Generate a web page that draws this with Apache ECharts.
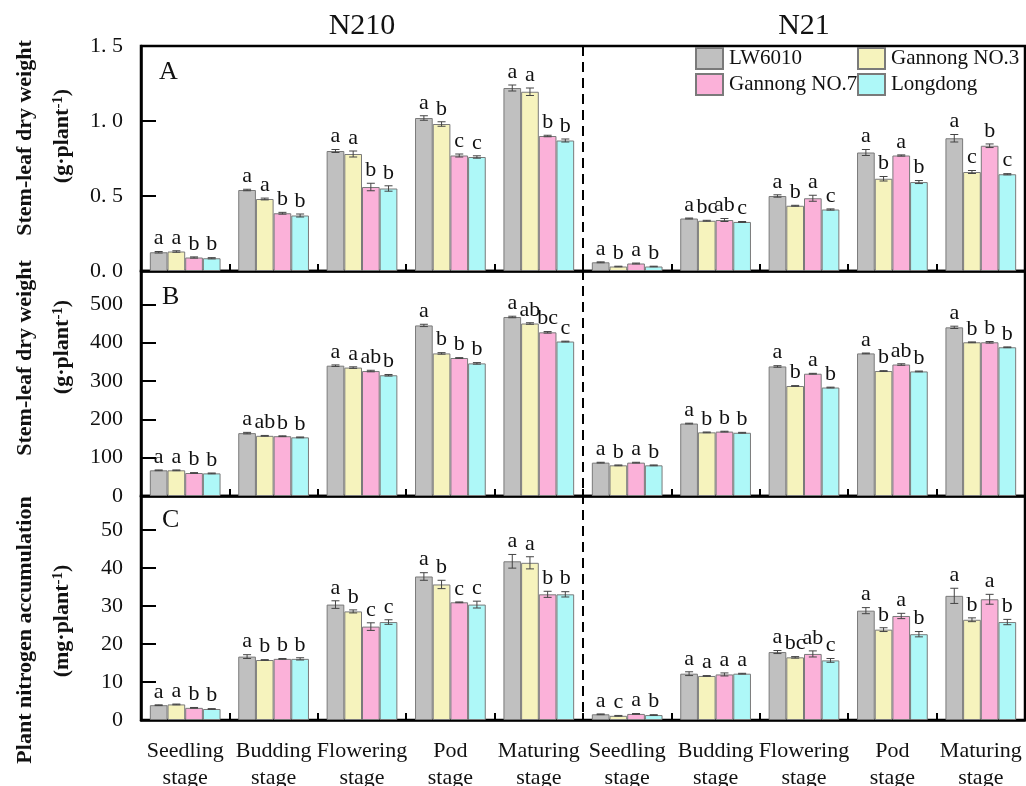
<!DOCTYPE html>
<html>
<head>
<meta charset="utf-8">
<script src="https://cdn.jsdelivr.net/npm/echarts@6/dist/echarts.min.js"></script>
<style>
html,body{margin:0;padding:0;background:#fff;}
#chart{width:1026px;height:786px;}
</style>
</head>
<body>
<div id="chart"></div>
<script>
// ---------- data ----------
const nLevels = ['N210', 'N21'];
const stages = ['Seedling\nstage', 'Budding\nstage', 'Flowering\nstage', 'Pod\nstage', 'Maturing\nstage'];
const categories = stages.concat(stages);
const varieties = ['LW6010', 'Gannong NO.3', 'Gannong NO.7', 'Longdong'];
const colors = ['#c0c0c0', '#f6f3bd', '#fbb1d9', '#aef8f8'];
const panelLetters = ['A', 'B', 'C'];

// Panel A: stem-leaf dry weight (g·plant-1) [variety][category]
const valuesA = [
  [0.125, 0.54, 0.80, 1.02, 1.22, 0.058, 0.35, 0.50, 0.79, 0.885],
  [0.13, 0.48, 0.78, 0.98, 1.195, 0.03, 0.335, 0.435, 0.615, 0.66],
  [0.09, 0.385, 0.56, 0.77, 0.90, 0.05, 0.34, 0.485, 0.77, 0.835],
  [0.085, 0.37, 0.55, 0.76, 0.87, 0.03, 0.327, 0.41, 0.593, 0.645]
];
const errorsA = [
  [0.005, 0.005, 0.01, 0.015, 0.02, 0.003, 0.003, 0.008, 0.02, 0.025],
  [0.005, 0.006, 0.02, 0.015, 0.025, 0.002, 0.003, 0.003, 0.015, 0.01],
  [0.004, 0.006, 0.025, 0.01, 0.005, 0.003, 0.01, 0.02, 0.004, 0.012],
  [0.004, 0.01, 0.018, 0.008, 0.01, 0.002, 0.003, 0.004, 0.01, 0.004]
];
const lettersA = [
  ['a', 'a', 'a', 'a', 'a', 'a', 'a', 'a', 'a', 'a'],
  ['a', 'a', 'a', 'b', 'a', 'b', 'bc', 'b', 'b', 'c'],
  ['b', 'b', 'b', 'c', 'b', 'a', 'ab', 'a', 'a', 'b'],
  ['b', 'b', 'b', 'c', 'b', 'b', 'c', 'c', 'b', 'c']
];

// Panel B
const valuesB = [
  [67, 164, 340, 445, 467, 87, 189, 338, 372, 440],
  [67, 157, 335, 372, 450, 80, 166, 287, 326, 401],
  [60, 156, 326, 360, 427, 87, 168, 319, 343, 401],
  [59, 153, 315, 346, 403, 80, 165, 283, 325, 388]
];
const errorsB = [
  [1, 2, 2, 3, 2, 1, 1, 2, 1, 3],
  [1, 1, 2, 2, 2, 1, 1, 1, 1, 1],
  [1, 1, 2, 1, 2, 1, 1, 1, 2, 2],
  [1, 1, 2, 2, 1, 1, 1, 1, 1, 1]
];
const lettersB = [
  ['a', 'a', 'a', 'a', 'a', 'a', 'a', 'a', 'a', 'a'],
  ['a', 'ab', 'a', 'b', 'ab', 'b', 'b', 'b', 'b', 'b'],
  ['b', 'b', 'ab', 'b', 'bc', 'a', 'b', 'a', 'ab', 'b'],
  ['b', 'b', 'b', 'b', 'c', 'b', 'b', 'b', 'b', 'b']
];

// Panel C: plant nitrogen accumulation (mg·plant-1)
const valuesC = [
  [3.9, 16.7, 30.4, 37.8, 41.8, 1.5, 12.2, 17.9, 28.8, 32.7],
  [4.1, 15.8, 28.6, 35.7, 41.4, 1.1, 11.6, 16.5, 23.8, 26.4],
  [3.2, 16.1, 24.6, 31.0, 33.1, 1.6, 12.0, 17.4, 27.4, 31.8],
  [2.9, 16.1, 25.8, 30.4, 33.1, 1.3, 12.2, 15.7, 22.6, 25.8]
];
const errorsC = [
  [0.1, 0.5, 1.0, 1.0, 1.8, 0.1, 0.5, 0.4, 0.8, 2.0],
  [0.1, 0.1, 0.4, 1.1, 1.6, 0.1, 0.1, 0.2, 0.5, 0.5],
  [0.1, 0.1, 1.0, 0.1, 0.8, 0.1, 0.4, 0.8, 0.7, 1.3],
  [0.1, 0.3, 0.6, 0.9, 0.7, 0.1, 0.1, 0.5, 0.7, 0.7]
];
const lettersC = [
  ['a', 'a', 'a', 'a', 'a', 'a', 'a', 'a', 'a', 'a'],
  ['a', 'b', 'b', 'b', 'a', 'c', 'a', 'bc', 'b', 'b'],
  ['b', 'b', 'c', 'c', 'b', 'a', 'a', 'ab', 'a', 'a'],
  ['b', 'b', 'c', 'c', 'b', 'b', 'a', 'c', 'b', 'b']
];

const yMax = [1.5, 587, 59];
const yInterval = [0.5, 100, 10];

// ---------- chart ----------
const SERIF = 'Liberation Serif';
const panels = [
  {values: valuesA, errors: errorsA, letters: lettersA},
  {values: valuesB, errors: errorsB, letters: lettersB},
  {values: valuesC, errors: errorsC, letters: lettersC}
];
const gridTops = [46, 271, 496];
const gridHeights = [225, 225, 224];

const chart = echarts.init(document.getElementById('chart'), null, {renderer: 'canvas'});

const grids = [], xAxes = [], yAxes = [], series = [];
panels.forEach((p, pi) => {
  grids.push({
    left: 141, right: 1, top: gridTops[pi], height: gridHeights[pi],
    show: true, borderColor: '#000', borderWidth: 2.5, backgroundColor: 'transparent',
    containLabel: false, outerBoundsMode: 'none'
  });
  xAxes.push({
    type: 'category', gridIndex: pi, data: categories,
    axisLine: {show: true, lineStyle: {color: '#000', width: 2.5}},
    axisTick: {show: true, inside: true, length: 7, lineStyle: {color: '#000', width: 2}},
    axisLabel: {
      show: pi === 2, interval: 0, margin: 18,
      fontFamily: SERIF, fontSize: 22, lineHeight: 27, color: '#111'
    },
    splitLine: {show: false}
  });
  yAxes.push({
    type: 'value', gridIndex: pi, min: 0, max: yMax[pi], interval: yInterval[pi],
    axisLine: {show: true, lineStyle: {color: '#000', width: 2.5}},
    axisTick: {show: true, inside: true, length: 15, lineStyle: {color: '#000', width: 2}},
    splitLine: {show: false},
    axisLabel: {
      margin: 18, fontFamily: SERIF, fontSize: 22, color: '#111',
      showMaxLabel: pi === 0, showMinLabel: true,
      formatter: pi === 0 ? (v) => v.toFixed(1).replace('.', '. ') : (v) => String(Math.round(v))
    }
  });
  varieties.forEach((name, si) => {
    series.push({
      type: 'bar', name: name, xAxisIndex: pi, yAxisIndex: pi,
      data: p.values[si],
      barGap: '0%', barCategoryGap: '20%',
      itemStyle: {color: colors[si], borderColor: '#7a7a7a', borderWidth: 1},
      emphasis: {disabled: true}, animation: false, z: 2
    });
  });
  // error bars + significance letters
  const errData = [];
  for (let si = 0; si < 4; si++) {
    for (let ci = 0; ci < categories.length; ci++) {
      errData.push([ci, si, p.values[si][ci], p.errors[si][ci]]);
    }
  }
  series.push({
    type: 'custom', xAxisIndex: pi, yAxisIndex: pi, data: errData,
    encode: {x: 0, y: 2}, z: 5, animation: false, silent: true,
    renderItem: function (params, api) {
      const ci = api.value(0), si = api.value(1), v = api.value(2), e = api.value(3);
      const band = api.size([1, 0])[0];
      const barW = band * 0.8 / 4;
      const xc = api.coord([ci, v])[0] + (si - 1.5) * barW;
      const yTop = api.coord([ci, v + e])[1];
      const yBot = api.coord([ci, v - e])[1];
      const cap = 4;
      const st = {stroke: '#444', lineWidth: 1};
      return {
        type: 'group',
        children: [
          {type: 'line', shape: {x1: xc, y1: yTop, x2: xc, y2: yBot}, style: st},
          {type: 'line', shape: {x1: xc - cap, y1: yTop, x2: xc + cap, y2: yTop}, style: st},
          {type: 'line', shape: {x1: xc - cap, y1: yBot, x2: xc + cap, y2: yBot}, style: st},
          {type: 'text', style: {
            x: xc, y: yTop - 2, text: p.letters[si][ci],
            align: 'center', verticalAlign: 'bottom',
            font: '22px ' + SERIF, fill: '#111'
          }}
        ]
      };
    }
  });
});

const legendPos = [[695, 47], [857, 47], [695, 73], [857, 73]];
const legends = varieties.map((name, i) => ({
  data: [name], left: legendPos[i][0], top: legendPos[i][1], padding: 0,
  itemWidth: 27, itemHeight: 21, itemGap: 0, icon: 'rect',
  selectedMode: false,
  textStyle: {fontFamily: SERIF, fontSize: 21, color: '#111', padding: [0, 0, 0, 1]}
}));

chart.setOption({
  animation: false,
  backgroundColor: '#fff',
  grid: grids, xAxis: xAxes, yAxis: yAxes, series: series, legend: legends
});

// ---------- annotations (positions from the axes) ----------
const xa = chart.convertToPixel({xAxisIndex: 0}, 4);
const xb = chart.convertToPixel({xAxisIndex: 0}, 5);
const xMid = (xa + xb) / 2;
const yTopPx = chart.convertToPixel({yAxisIndex: 0}, yMax[0]);
const yBotPx = chart.convertToPixel({yAxisIndex: 2}, 0);
const leftCenter = (chart.convertToPixel({xAxisIndex: 0}, 0) + chart.convertToPixel({xAxisIndex: 0}, 4)) / 2;
const rightCenter = (chart.convertToPixel({xAxisIndex: 0}, 5) + chart.convertToPixel({xAxisIndex: 0}, 9)) / 2;

const yTitles = [
  ['Stem-leaf dry weight', '(g·plant{sup|-1})', 138, 136],
  ['Stem-leaf dry weight', '(g·plant{sup|-1})', 358, 347],
  ['Plant nitrogen accumulation', '(mg·plant{sup|-1})', 630, 621]
];
const graphics = [
  {id: 'divider', type: 'line', z: 20,
   shape: {x1: xMid, y1: yTopPx, x2: xMid, y2: yBotPx},
   style: {stroke: '#000', lineWidth: 2, lineDash: [10, 6]}},
  {id: 'n210', type: 'text', x: leftCenter, y: 26, z: 20,
   style: {text: nLevels[0], font: '30px ' + SERIF, fill: '#111', align: 'center', verticalAlign: 'middle'}},
  {id: 'n21', type: 'text', x: rightCenter, y: 26, z: 20,
   style: {text: nLevels[1], font: '30px ' + SERIF, fill: '#111', align: 'center', verticalAlign: 'middle'}}
];
const letterPos = [[159, 72], [162, 297], [162, 520]];
panelLetters.forEach((L, i) => {
  graphics.push({id: 'pl' + i, type: 'text', x: letterPos[i][0], y: letterPos[i][1], z: 20,
    style: {text: L, font: '26px ' + SERIF, fill: '#111', align: 'left', verticalAlign: 'middle'}});
});
yTitles.forEach((t, i) => {
  graphics.push({id: 'yt1_' + i, type: 'text', x: 25, y: t[2], rotation: Math.PI / 2, z: 20,
    style: {text: t[0], font: 'bold 22px ' + SERIF, fill: '#111', align: 'center', verticalAlign: 'middle'}});
  graphics.push({id: 'yt2_' + i, type: 'text', x: 62, y: t[3], rotation: Math.PI / 2, z: 20,
    style: {text: t[1], font: 'bold 22px ' + SERIF, fill: '#111', align: 'center', verticalAlign: 'middle',
      rich: {sup: {font: 'bold 15px ' + SERIF, fill: '#111', verticalAlign: 'top', padding: [0, 0, 8, 0]}}}});
});
chart.setOption({graphic: graphics});
</script>
</body>
</html>
